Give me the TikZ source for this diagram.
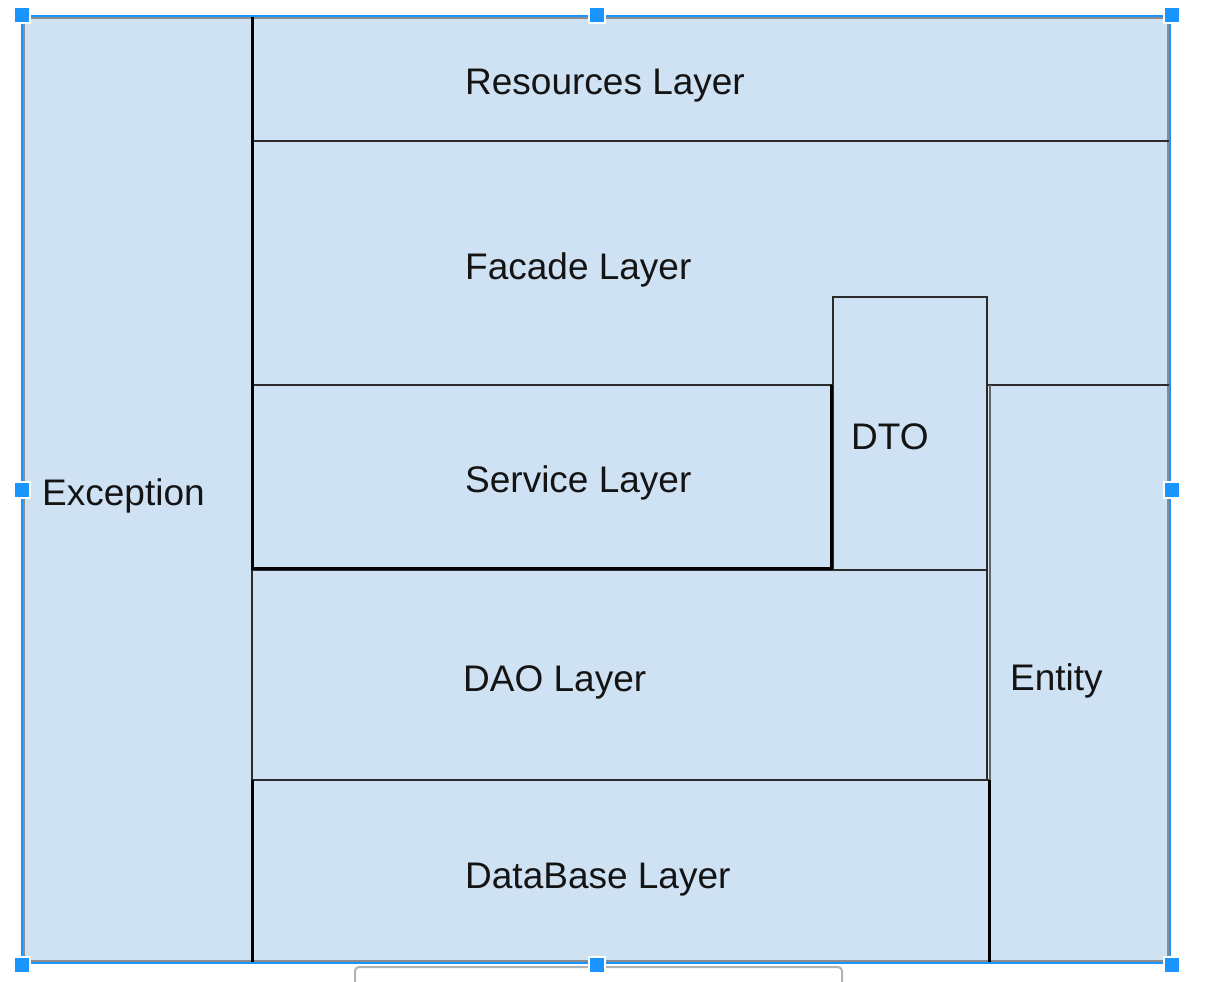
\documentclass[tikz,border=0pt]{standalone}
\usepackage{fontspec}
\setmainfont{Liberation Sans}
\usetikzlibrary{positioning}
\definecolor{layerfill}{HTML}{CFE2F3}
\definecolor{selblue}{HTML}{1A95FF}
\definecolor{edge}{HTML}{2B2B2B}

\begin{document}
\begin{tikzpicture}[x=1pt, y=-1pt,
    label/.style={anchor=base west, inner sep=0pt, text=black!92,
        font=\fontsize{37}{44}\selectfont},
    box/.style={draw=edge, line width=1.6pt},
    heavy/.style={draw=black, line width=3pt},
    handle/.style={fill=selblue, draw=white, line width=2pt}]
    \useasboundingbox (0,0) rectangle (1218,982);

    % Panel below the selection
    \draw [black!30, line width=2pt, rounded corners=4pt, fill=white]
        (355,990) -- (355,967) -- (842,967) -- (842,990);

    % Background and outer frame
    \fill [layerfill] (22,16) rectangle (1170,963);
    \draw [black!45, line width=2pt] (24,18) rectangle (1168,961);

    % Layers
    \draw [box] (252,16) rectangle (1170,141);
    \draw [box] (252,141) rectangle (1170,385);
    \draw [box, fill=layerfill] (833,297) rectangle (987,570);
    \draw [box] (252,570) rectangle (987,780);
    \draw [box] (252,780) rectangle (989,963);
    \draw [black!60, line width=2.5pt] (990,385) -- (990,963);

    % Heavy edges
    \draw [heavy] (252,16) -- (252,570);
    \draw [heavy] (252,780) -- (252,963);
    \draw [heavy] (252,568) -- (831,568) -- (831,385);
    \draw [heavy] (989,780) -- (989,963);

    % Labels
    \node [label] (resources) at (465,94) {Resources Layer};
    \node [label] (facade) at (465,279) {Facade Layer};
    \node [label] (service) at (465,492) {Service Layer};
    \node [label] (dto) at (851,449) {DTO};
    \node [label] (exception) at (42,505) {Exception};
    \node [label] (dao) at (463,691) {DAO Layer};
    \node [label] (entity) at (1010,690) {Entity};
    \node [label] (database) at (465,888) {DataBase Layer};

    % Selection frame and handles
    \draw [selblue, line width=2pt] (22,16) rectangle (1170,963);
    \foreach \x/\y in {22/15, 597/15, 1172/15, 22/490, 1172/490,
        22/965, 597/965, 1172/965} {
        \draw [handle] (\x-8,\y-8) rectangle (\x+8,\y+8);
    }
\end{tikzpicture}
\end{document}
